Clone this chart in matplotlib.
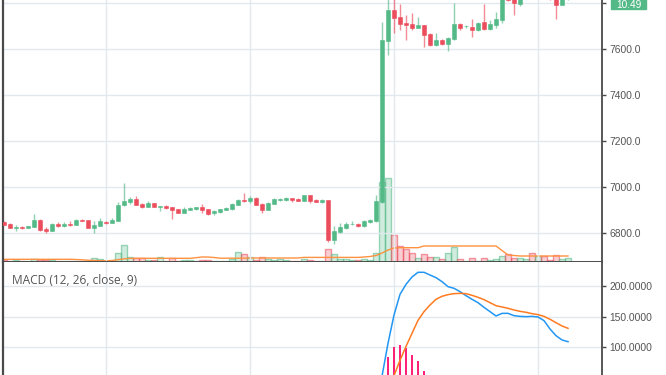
import matplotlib.pyplot as plt
from matplotlib.patches import Rectangle

# ---- data (hourly bars) ----
opens = [6848, 6839, 6823, 6826, 6823, 6828, 6857, 6817, 6810, 6839,
         6830, 6839, 6836, 6857, 6857, 6822, 6832, 6848, 6845, 6854,
         6922, 6936, 6948, 6926, 6913, 6930, 6913, 6917, 6913, 6904,
         6887, 6900, 6904, 6913, 6904, 6887, 6891, 6900, 6904, 6922,
         6943, 6939, 6952, 6926, 6900, 6926, 6943, 6943, 6952, 6948,
         6939, 6965, 6943, 6935, 6943, 6770, 6804, 6822, 6839, 6839,
         6830, 6849, 6852, 6936, 7636, 7770, 7741, 7714, 7709, 7693,
         7704, 7665, 7619, 7639, 7622, 7645, 7709, 7698, 7694, 7683,
         7717, 7687, 7704, 7726, 7835, 7825, 7796, 7835, 7860, 7845,
         7865, 7840, 7825, 7793, 7818]
highs = [6852, 6842, 6833, 6829, 6832, 6883, 6859, 6825, 6845, 6848,
         6848, 6852, 6860, 6859, 6858, 6852, 6865, 6852, 6865, 6934,
         7017, 6956, 6961, 6932, 6939, 6932, 6919, 6920, 6914, 6906,
         6913, 6915, 6915, 6926, 6906, 6898, 6906, 6913, 6930, 6948,
         6974, 6961, 6955, 6930, 6935, 6950, 6950, 6956, 6954, 6950,
         6965, 6966, 6948, 6948, 6945, 6830, 6843, 6846, 6852, 6843,
         6857, 6860, 6965, 7717, 7830, 7830, 7796, 7748, 7758, 7741,
         7706, 7670, 7668, 7642, 7650, 7799, 7712, 7705, 7730, 7718,
         7796, 7726, 7761, 7830, 7845, 7840, 7850, 7870, 7880, 7875,
         7870, 7850, 7835, 7830, 7830]
lows = [6834, 6820, 6810, 6818, 6820, 6826, 6808, 6799, 6808, 6826,
        6828, 6832, 6834, 6852, 6820, 6801, 6830, 6840, 6843, 6852,
        6918, 6927, 6920, 6910, 6911, 6911, 6895, 6905, 6862, 6885,
        6885, 6898, 6902, 6887, 6878, 6880, 6889, 6898, 6902, 6920,
        6936, 6930, 6920, 6887, 6898, 6924, 6937, 6937, 6935, 6937,
        6937, 6930, 6933, 6930, 6761, 6752, 6800, 6818, 6836, 6826,
        6828, 6844, 6848, 6930, 7574, 7670, 7683, 7639, 7683, 7690,
        7610, 7614, 7615, 7617, 7591, 7640, 7683, 7690, 7653, 7680,
        7683, 7684, 7693, 7713, 7808, 7748, 7787, 7825, 7830, 7835,
        7830, 7815, 7732, 7790, 7814]
closes = [6836, 6823, 6826, 6822, 6830, 6857, 6813, 6810, 6839, 6830,
          6839, 6835, 6857, 6854, 6822, 6835, 6852, 6843, 6857, 6922,
          6939, 6948, 6922, 6913, 6930, 6913, 6917, 6909, 6900, 6887,
          6904, 6909, 6913, 6900, 6883, 6896, 6904, 6909, 6926, 6943,
          6939, 6952, 6922, 6900, 6930, 6948, 6948, 6952, 6943, 6939,
          6965, 6939, 6935, 6943, 6770, 6809, 6826, 6839, 6841, 6832,
          6852, 6857, 6939, 7639, 7770, 7736, 7709, 7704, 7693, 7704,
          7662, 7619, 7639, 7622, 7647, 7709, 7693, 7700, 7683, 7713,
          7687, 7709, 7730, 7820, 7815, 7800, 7835, 7860, 7845, 7865,
          7840, 7825, 7793, 7820, 7826]
volumes = [20, 15, 20, 10, 15, 27, 25, 20, 20, 15,
           10, 15, 10, 10, 15, 40, 30, 10, 15, 87,
           167, 50, 37, 37, 20, 20, 50, 15, 37, 15,
           20, 20, 15, 20, 20, 10, 15, 15, 30, 97,
           77, 50, 20, 50, 30, 20, 30, 20, 10, 10,
           30, 20, 10, 10, 130, 80, 30, 30, 20, 20,
           30, 20, 90, 800, 840, 270, 160, 127, 90, 40,
           80, 50, 50, 30, 90, 150, 30, 10, 40, 10,
           40, 20, 30, 60, 80, 40, 40, 30, 90, 60,
           60, 20, 70, 30, 40]
vol_ma = [27, 27, 27, 27, 27, 27, 27, 27, 27, 27,
          27, 27, 25, 22, 18, 15, 13, 13, 15, 23,
          32, 36, 37, 37, 37, 37, 37, 37, 37, 37,
          37, 37, 43, 50, 50, 45, 38, 38, 38, 38,
          39, 39, 40, 40, 40, 40, 40, 40, 40, 40,
          46, 46, 46, 46, 46, 46, 46, 46, 46, 46,
          50, 55, 65, 90, 120, 140, 143, 143, 143, 143,
          160, 160, 160, 160, 160, 160, 160, 160, 160, 160,
          160, 160, 160, 115, 70, 65, 60, 60, 60, 60,
          60, 60, 60, 60, 60]

macd_start = 61  # bar index of first MACD value below
macd = [12, 25, 53, 106.5, 152.7, 186.4, 202.7, 214.7, 222.3, 222.3,
        217.9, 213.6, 207.1, 198.9, 196.2, 190.8, 184.2, 178.3, 172.8, 165.2,
        158.2, 151.1, 155.4, 155.4, 151.6, 150.5, 150.0, 150.5, 149.5, 143.5,
        129.9, 119.0, 112.0, 109.2]
signal = [3, 6, 15, 22, 54, 78.8, 101.6, 122.8, 144.0, 158.2,
          169.0, 178.3, 183.2, 185.9, 187.5, 188.0, 187.5, 184.8, 181.5, 177.7,
          172.8, 167.9, 165.8, 163.6, 160.9, 158.7, 157.1, 154.9, 153.3, 150.5,
          145.7, 140.2, 134.8, 131.0]
hist = [9, 19, 38, 84.7, 101.1, 103.8, 99.4, 87.5, 77.7, 61.4,
        48.9, 35.3, 23.9, 13, 8.7, 2.8, -3.3, -6.5, -8.7, -12.5,
        -14.6, -16.8, -10.4, -8.2, -9.3, -8.2, -7.1, -4.4, -3.8, -7.0,
        -15.8, -21.2, -22.8, -21.8]

price_ticks = [6800, 7000, 7200, 7400, 7600, 7800]
macd_ticks = [100, 150, 200]
time_grid = [17, 41, 65, 89]
last_label = "10.49"
macd_title = "MACD (12, 26, close, 9)"

# ---- styling ----
W, H, DPI = 666, 375, 100
UP, DOWN = "#53b987", "#eb4d5c"
GRID = "#e1e8ee"
AXIS = "#4a4a4a"
TXT = "#555555"

fig = plt.figure(figsize=(W / DPI, H / DPI), dpi=DPI)


def fx(px):
    return px / W


def fy(py):
    return 1 - py / H


left, right, split = 2.5, 601.5, 262
pos_main = [fx(left), fy(split), fx(right - left), split / H]
pos_macd = [fx(left), 0, fx(right - left), (H - split) / H]

axv = fig.add_axes(pos_main)
ax = fig.add_axes(pos_main, facecolor="none")
axm = fig.add_axes(pos_macd)

n = len(opens)
x = list(range(n))
xlim = (-0.25, 99.58)

# volume
vcol = [UP if c >= o else DOWN for o, c in zip(opens, closes)]
axv.bar(x, volumes, width=0.95, color=[c + "45" for c in vcol],
        edgecolor=[c + "90" for c in vcol], linewidth=1.0)
axv.plot(x, vol_ma, color="#ff9240", lw=1.0)
axv.set_ylim(0, 2620)
axv.set_xlim(*xlim)
axv.axis("off")

# candles
for i in range(n):
    o, h, l, c = opens[i], highs[i], lows[i], closes[i]
    col = UP if c >= o else DOWN
    ax.vlines(i, l, h, color=col, lw=1.0, alpha=0.65, zorder=2)
    body = max(abs(c - o), 1.5)
    ax.bar(i, body, bottom=min(o, c), width=0.68, color=col,
           edgecolor=col, linewidth=0.4, zorder=3)

ax.set_xlim(*xlim)
ax.set_ylim(6673.9, 7813)
ax.set_yticks(price_ticks)
# the 7800 label sits under the last-price tag, so leave it blank
ax.set_yticklabels([f"{t:.1f}" if t < 7800 else "" for t in price_ticks])
ax.set_xticks(time_grid)
ax.set_xticklabels([])
ax.yaxis.tick_right()
ax.grid(True, color=GRID, lw=1.0)
ax.set_axisbelow(True)
ax.tick_params(axis="x", length=0)
ax.tick_params(axis="y", length=3, width=1, color=AXIS, pad=2.5,
               labelsize=7.4, labelcolor=TXT)
for lab in ax.get_yticklabels():
    lab.set_family("Liberation Sans")
ax.spines["top"].set_visible(False)
for s in ("left", "right", "bottom"):
    ax.spines[s].set_color(AXIS)
ax.spines["left"].set_linewidth(1.6)
ax.spines["right"].set_linewidth(1.3)
ax.spines["bottom"].set_linewidth(1.4)

# MACD panel
mx = list(range(macd_start, macd_start + len(macd)))
axm.vlines(mx, 0, hist, color="#ff0a6c", lw=1.3, zorder=2)
axm.plot(mx, macd, color="#2196f3", lw=1.1, zorder=3)
axm.plot(mx, signal, color="#ff7b22", lw=1.1, zorder=3)
axm.set_xlim(*xlim)
axm.set_ylim(54.9, 239.1)
axm.set_yticks(macd_ticks)
axm.set_yticklabels([f"{t:.4f}" for t in macd_ticks])
axm.set_xticks(time_grid)
axm.set_xticklabels([])
axm.yaxis.tick_right()
axm.grid(True, color=GRID, lw=1.0)
axm.set_axisbelow(True)
axm.tick_params(axis="x", length=0)
axm.tick_params(axis="y", length=3, width=1, color=AXIS, pad=2.5,
                labelsize=7.4, labelcolor=TXT)
for lab in axm.get_yticklabels():
    lab.set_family("Liberation Sans")
axm.spines["top"].set_visible(False)
axm.spines["bottom"].set_visible(False)
for s in ("left", "right"):
    axm.spines[s].set_color(AXIS)
axm.spines["left"].set_linewidth(1.6)
axm.spines["right"].set_linewidth(1.3)

fig.text(fx(11.7), fy(280), macd_title, fontsize=8.6, family="Open Sans",
         color=TXT, va="center", ha="left")

# last price tag at the top edge of the price scale
fig.patches.append(Rectangle((fx(611), fy(8.6)), fx(35), 14 / H,
                             transform=fig.transFigure, color=UP, zorder=5))
fig.text(fx(628.5), fy(4.6), last_label, fontsize=7.3, family="Liberation Sans",
         color="white", ha="center", va="center", zorder=6)

fig.savefig("out.png", dpi=DPI)
